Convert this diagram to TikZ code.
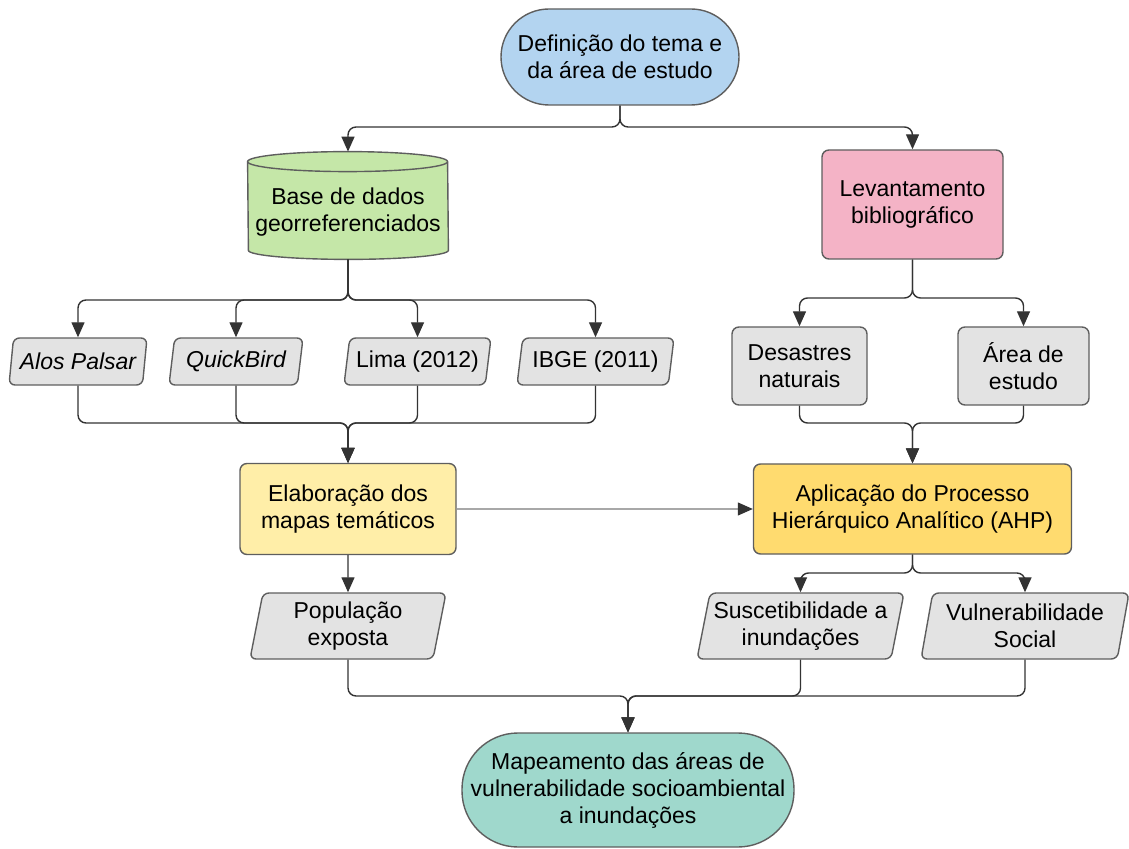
\documentclass[tikz,border=0pt]{standalone}
\usepackage{fontspec}
\setmainfont{Liberation Sans}
\usetikzlibrary{shapes.geometric,arrows.meta}
\definecolor{cblue}{HTML}{B3D4F0}
\definecolor{cgreen}{HTML}{C5E7A8}
\definecolor{cpink}{HTML}{F4B3C6}
\definecolor{cgray}{HTML}{E3E3E3}
\definecolor{cyellowl}{HTML}{FFEEA8}
\definecolor{cyellow}{HTML}{FFDB6F}
\definecolor{cteal}{HTML}{9FD8CC}
\definecolor{cedge}{HTML}{5E5E5E}
\definecolor{cline}{HTML}{333333}
\definecolor{clight}{HTML}{A8A8A8}
\begin{document}
\begin{tikzpicture}%
	[x=0.5pt, y=-0.5pt,
	box/.style={draw=cedge, line width=0.7pt, align=center, inner sep=0pt, font=\fontsize{11.5}{13.5}\selectfont},
	terminal/.style={box, rounded corners=24pt},
	process/.style={box, rounded corners=3.5pt},
	dataio/.style={box, fill=cgray, trapezium, trapezium left angle=75, trapezium right angle=105, trapezium stretches body, rounded corners=3pt},
	cylbase/.style={inner sep=0pt, minimum width=100pt, minimum height=53.5pt},
	cylside/.style={draw=cedge, line width=0.7pt, fill=cgreen},
	conn/.style={draw=cline, line width=0.7pt, rounded corners=4pt, -{Triangle[length=7.5pt,width=6.5pt,color=cline]}},
	feed/.style={conn, draw=clight, line width=0.6pt}]
%
\useasboundingbox (0,0) rectangle (1129,849);
%
%% Terminals
%%
\node[terminal, fill=cblue, minimum width=119pt, minimum height=48pt] (tema) at (620,57) {Definição do tema e\\da área de estudo};
\node[terminal, fill=cteal, rounded corners=28pt, minimum width=166pt, minimum height=57pt] (mapa) at (628,790) {Mapeamento das áreas de\\vulnerabilidade socioambiental\\a inundações};
%%
%% Database (cylinder)
%%
\node[cylbase] (db) at (348,205.5) {};
\draw[cylside] ([yshift=-5pt]db.north west) arc[start angle=180, end angle=0, x radius=50pt, y radius=5pt] -- ([yshift=4.5pt]db.south east) arc[start angle=0, end angle=-180, x radius=50pt, y radius=4.5pt] -- cycle;
\draw[cylside, fill=none] ([yshift=-5pt]db.north west) arc[start angle=180, end angle=360, x radius=50pt, y radius=5pt];
\node[box, draw=none] (dbtxt) at (348,212) {Base de dados\\georreferenciados};
%%
%% Processes
%%
\node[process, fill=cpink, minimum width=90.5pt, minimum height=54.5pt] (biblio) at (912.5,204.5) {Levantamento\\bibliográfico};
\node[process, fill=cgray, minimum width=67.5pt, minimum height=39pt] (desastres) at (799.5,366) {Desastres\\naturais};
\node[process, fill=cgray, minimum width=65.5pt, minimum height=39pt] (area) at (1023.5,366) {Área de\\estudo};
\node[process, fill=cyellowl, minimum width=108pt, minimum height=45.5pt] (elab) at (348,509) {Elaboração dos\\mapas temáticos};
\node[process, fill=cyellow, minimum width=159pt, minimum height=45pt] (ahp) at (912.5,509) {Aplicação do Processo\\Hierárquico Analítico (AHP)};
%%
%% Data
%%
\node[dataio, minimum width=69pt, minimum height=23.5pt] (alos) at (78,361.5) {\itshape Alos Palsar};
\node[dataio, minimum width=67pt, minimum height=23.5pt] (quick) at (236,361.5) {\itshape QuickBird};
\node[dataio, minimum width=73.5pt, minimum height=23.5pt] (lima) at (417.5,361.5) {Lima (2012)};
\node[dataio, minimum width=78.5pt, minimum height=23.5pt] (ibge) at (595.5,361.5) {IBGE (2011)};
\node[dataio, minimum width=98pt, minimum height=33pt] (pop) at (348,626) {População\\exposta};
\node[dataio, minimum width=103.5pt, minimum height=33pt] (susc) at (800.5,626) {Suscetibilidade a\\inundações};
\node[dataio, minimum width=104pt, minimum height=33pt] (vuln) at (1025,626) {Vulnerabilidade\\Social};
%%
%% Junctions
%%
\coordinate (jtema) at (620,127);
\coordinate (jdb) at (348,300);
\coordinate (jdata) at (348,423);
\coordinate (jbib) at (912.5,298);
\coordinate (jbm) at (912.5,423);
\coordinate (jahp) at (912.5,573);
\coordinate (jfim) at (628,696);
%%
%% Connectors
%%
\draw[conn] (tema.south) -- (jtema) -| (db.north);
\draw[conn] (tema.south) -- (jtema) -| (biblio.north);
\foreach \n in {alos,quick,lima,ibge} {
	\draw[conn] (db.south) -- (jdb) -| (\n.north);
	\draw[conn] (\n.south) |- (jdata) -- (elab.north);
}
\foreach \n in {desastres,area} {
	\draw[conn] (biblio.south) -- (jbib) -| (\n.north);
	\draw[conn] (\n.south) |- (jbm) -- (ahp.north);
}
\draw[feed] (elab.east) -- (ahp.west);
\draw[conn] (elab.south) -- (pop.north);
\foreach \n in {susc,vuln} {
	\draw[conn] (ahp.south) -- (jahp) -| (\n.north);
}
\foreach \n in {pop,susc,vuln} {
	\draw[conn] (\n.south) |- (jfim) -- (mapa.north);
}
%%
\end{tikzpicture}
\end{document}
